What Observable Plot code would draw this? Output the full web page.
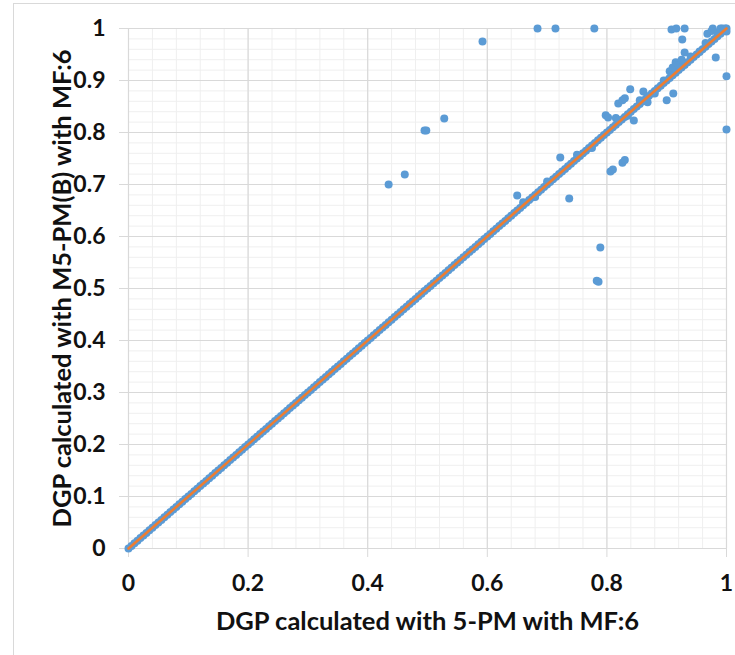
<!DOCTYPE html>
<html>
<head>
<meta charset="utf-8">
<script src="https://cdn.jsdelivr.net/npm/d3@7"></script>
<script src="https://cdn.jsdelivr.net/npm/@observablehq/plot@0.6"></script>
<style>
  html, body { margin: 0; padding: 0; background: #fff; }
  #wrap { position: relative; width: 735px; height: 655px; overflow: hidden; }
  #frame { position: absolute; left: 13px; top: 3px; width: 800px; height: 800px;
           border-left: 1.5px solid #d9d9d9; border-top: 1.5px solid #d9d9d9; }
  #chart { position: absolute; left: 0; top: 0; }
</style>
</head>
<body>
<div id="wrap"><div id="frame"></div><div id="chart"></div></div>
<script>
// Axis titles
const xTitle = "DGP calculated with 5-PM with MF:6";
const yTitle = "DGP calculated with M5-PM(B) with MF:6";

// Tick values / labels
const xTicks = [0, 0.2, 0.4, 0.6, 0.8, 1];
const yTicks = [0, 0.1, 0.2, 0.3, 0.4, 0.5, 0.6, 0.7, 0.8, 0.9, 1];

// Dense points lying on the diagonal (x = y)
const diagValues = [
  0.000,0.005,0.010,0.015,0.020,0.025,0.030,0.035,0.040,0.045,0.050,0.055,0.060,0.065,0.070,0.075,0.080,0.085,0.090,0.095,
  0.100,0.105,0.110,0.115,0.120,0.125,0.130,0.135,0.140,0.145,0.150,0.155,0.160,0.165,0.170,0.175,0.180,0.185,0.190,0.195,
  0.200,0.205,0.210,0.215,0.220,0.225,0.230,0.235,0.240,0.245,0.250,0.255,0.260,0.265,0.270,0.275,0.280,0.285,0.290,0.295,
  0.300,0.305,0.310,0.315,0.320,0.325,0.330,0.335,0.340,0.345,0.350,0.355,0.360,0.365,0.370,0.375,0.380,0.385,0.390,0.395,
  0.400,0.405,0.410,0.415,0.420,0.425,0.430,0.435,0.440,0.445,0.450,0.455,0.460,0.465,0.470,0.475,0.480,0.485,0.490,0.495,
  0.500,0.505,0.510,0.515,0.520,0.525,0.530,0.535,0.540,0.545,0.550,0.555,0.560,0.565,0.570,0.575,0.580,0.585,0.590,0.595,
  0.600,0.605,0.610,0.615,0.620,0.625,0.630,0.635,0.640,0.645,0.650,0.655,0.660,0.665,0.670,0.675,0.680,0.685,0.690,0.695,
  0.700,0.705,0.710,0.715,0.720,0.725,0.730,0.735,0.740,0.745,0.750,0.755,0.760,0.765,0.770,0.775,0.780,0.785,0.790,0.795,
  0.800,0.805,0.810,0.815,0.820,0.825,0.830,0.835,0.840,0.845,0.850,0.855,0.860,0.865,0.870,0.875,0.880,0.885,0.890,0.895,
  0.900,0.905,0.910,0.915,0.920,0.925,0.930,0.935,0.940,0.945,0.950,0.955,0.960,0.965,0.970,0.975,0.980,0.985,0.990,0.995,
  1.000
];

// Scattered points off (or slightly off) the diagonal
const offX = [0.435,0.462,0.495,0.498,0.528,0.592,0.684,0.714,0.779,0.650,0.722,0.737,0.789,0.783,0.786,
              0.798,0.802,0.806,0.810,0.826,0.830,0.819,0.826,0.830,0.839,0.845,0.861,0.868,0.900,0.911,
              0.908,0.916,0.930,0.926,0.930,0.982,0.977,0.993,0.998,1.000,1.000,0.968,0.975,
              0.660,0.680,0.700,0.750,0.775,0.815,0.835,0.855,0.880,0.895,0.905,0.910,0.915,0.920,0.925,
              0.940,0.955,0.965,0.985,0.990,0.995,1.000];
const offY = [0.700,0.719,0.804,0.804,0.827,0.975,1.000,1.000,1.000,0.679,0.752,0.673,0.579,0.515,0.513,
              0.833,0.829,0.725,0.729,0.742,0.747,0.856,0.862,0.866,0.883,0.823,0.879,0.858,0.862,0.875,
              0.998,1.000,1.000,0.979,0.954,0.944,1.000,1.000,1.000,0.908,0.806,0.990,0.995,
              0.666,0.676,0.706,0.757,0.770,0.828,0.832,0.862,0.875,0.900,0.918,0.925,0.935,0.930,0.940,
              0.946,0.956,0.972,0.992,1.000,0.996,0.994];

// Reference line y = x
const lineX = [0, 1];
const lineY = [0, 1];

const points = [
  ...diagValues.map(v => ({x: v, y: v})),
  ...offX.map((v, i) => ({x: v, y: offY[i]}))
];
const linePts = lineX.map((v, i) => ({x: v, y: lineY[i]}));

const minorX = d3.range(0, 1.0001, 0.04);
const minorY = d3.range(0, 1.0001, 0.02);
const fmt = d => String(+d.toFixed(1));

const font = "Lato, 'Open Sans', sans-serif";

const chart = Plot.plot({
  width: 735, height: 655,
  marginLeft: 128, marginRight: 9, marginTop: 28, marginBottom: 107,
  x: {domain: [0, 1]},
  y: {domain: [0, 1]},
  style: {fontFamily: font, background: "transparent", overflow: "visible"},
  marks: [
    Plot.gridX(minorX, {stroke: "#efefef", strokeOpacity: 1, strokeWidth: 1}),
    Plot.gridY(minorY, {stroke: "#efefef", strokeOpacity: 1, strokeWidth: 1}),
    Plot.gridX(xTicks, {stroke: "#d9d9d9", strokeOpacity: 1, strokeWidth: 1.2}),
    Plot.gridY(yTicks, {stroke: "#d9d9d9", strokeOpacity: 1, strokeWidth: 1.2}),
    Plot.axisX(xTicks, {tickSize: 9, tickPadding: 17, tickFormat: fmt, stroke: "#d9d9d9", fill: "#111",
      fontSize: 23, fontWeight: "bold", label: null}),
    Plot.axisY(yTicks, {tickSize: 9, tickPadding: 14, tickFormat: fmt, stroke: "#d9d9d9", fill: "#111",
      fontSize: 23, fontWeight: "bold", label: null}),
    Plot.dot(points, {x: "x", y: "y", r: 4, fill: "#5B9BD5", stroke: "none"}),
    Plot.line(linePts, {x: "x", y: "y", stroke: "#ED7D31", strokeWidth: 2.6}),
    Plot.text([xTitle], {frameAnchor: "bottom", dy: 73, text: d => d, fontSize: 25.5, fontWeight: "bold",
      fill: "#111", lineAnchor: "middle", textAnchor: "middle"}),
    Plot.text([yTitle], {frameAnchor: "left", dx: -66, rotate: -90, text: d => d, fontSize: 25.5,
      fontWeight: "bold", fill: "#111", lineAnchor: "middle", textAnchor: "middle"})
  ]
});
document.getElementById("chart").appendChild(chart);
</script>
</body>
</html>
